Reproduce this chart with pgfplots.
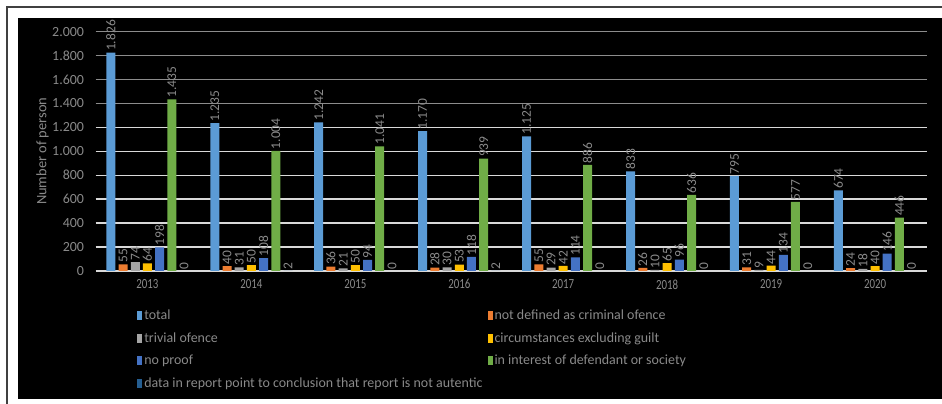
\documentclass[border=0pt]{standalone}
\usepackage{fontspec}
\setmainfont{Carlito}
\newfontfamily\cond[FakeStretch=0.78]{Carlito}
\usepackage{pgfplots}
\pgfplotsset{compat=1.18}
\definecolor{cTotal}{HTML}{5B9BD5}
\definecolor{cNotDef}{HTML}{ED7D31}
\definecolor{cTrivial}{HTML}{A5A5A5}
\definecolor{cCirc}{HTML}{FFC000}
\definecolor{cNoProof}{HTML}{4472C4}
\definecolor{cInterest}{HTML}{70AD47}
\definecolor{cData}{HTML}{255E91}
\definecolor{lbl}{HTML}{8A8A8A}
\definecolor{gridlow}{HTML}{D9D9D9}
\definecolor{gridtop}{HTML}{8C8C8C}
\definecolor{frame}{HTML}{404040}
\begin{document}
\begin{tikzpicture}
\useasboundingbox (0bp,0bp) rectangle (942bp,404bp);
\fill[white] (0bp,0bp) rectangle (942bp,404bp);
\fill[black] (18bp,5bp) rectangle (942bp,386bp);
\draw[line width=2bp, color=frame] (7bp,0bp) -- (7bp,397bp) -- (942bp,397bp);
\begin{axis}[
  at={(95.5bp,133bp)}, anchor=south west,
  scale only axis, width=831.5bp, height=239.3bp,
  ymin=0, ymax=2000,
  xmin=-0.5, xmax=7.5,
  xtick={0,1,2,3,4,5,6,7},
  xticklabels={2013,2014,2015,2016,2017,2018,2019,2020},
  ytick={0,200,400,600,800,1000,1200},
  extra y ticks={1400,1600,1800,2000},
  ymajorgrids,
  grid style={draw=gridlow, line width=1.5bp},
  extra y tick style={grid style={draw=gridtop, line width=1.5bp}},
  axis line style={draw=none},
  tick style={draw=none},
  major tick length=0pt,
  /pgf/number format/1000 sep={.},
  /pgf/number format/assume math mode=true,
  yticklabel style={font=\fontsize{14}{14}\selectfont, text=lbl, xshift=-8bp},
  xticklabel style={font=\cond\fontsize{14}{14}\selectfont, text=lbl, yshift=-5bp},
  ylabel={Number of person},
  ylabel style={font=\fontsize{14.5}{14.5}\selectfont, text=lbl, at={(axis description cs:-0.0637,0.5)}, anchor=center},
  ybar=3.2bp, bar width=9bp,
  every axis plot post/.append style={legend image code/.code={\fill[##1] (0bp,-4.5bp) rectangle (5bp,4.5bp);}},
  nodes near coords,
  every node near coord/.append style={rotate=90, anchor=west, font=\fontsize{13.5}{13.5}\selectfont, text=lbl, inner sep=1.5bp},
  legend columns=2,
  legend cell align=left,
  legend style={draw=none, fill=none, at={(axis description cs:0.050,-0.152)}, anchor=north west,
    font=\fontsize{14}{14}\selectfont, text=lbl, row sep=7.7bp, inner sep=0pt,
    /tikz/every even column/.append style={column sep=3bp}},
]
\addplot[fill=cTotal, draw=none] coordinates {(0,1826) (1,1235) (2,1242) (3,1170) (4,1125) (5,833) (6,795) (7,674)};
\addplot[fill=cNotDef, draw=none] coordinates {(0,55) (1,40) (2,36) (3,28) (4,55) (5,26) (6,31) (7,24)};
\addplot[fill=cTrivial, draw=none] coordinates {(0,74) (1,31) (2,21) (3,30) (4,29) (5,10) (6,9) (7,18)};
\addplot[fill=cCirc, draw=none] coordinates {(0,64) (1,50) (2,50) (3,53) (4,42) (5,65) (6,44) (7,40)};
\addplot[fill=cNoProof, draw=none] coordinates {(0,198) (1,108) (2,94) (3,118) (4,114) (5,96) (6,134) (7,146)};
\addplot[fill=cInterest, draw=none] coordinates {(0,1435) (1,1004) (2,1041) (3,939) (4,886) (5,636) (6,577) (7,446)};
\addplot[fill=cData, draw=none] coordinates {(0,0) (1,2) (2,0) (3,2) (4,0) (5,0) (6,0) (7,0)};
\legend{total, not defined as criminal ofence, trivial ofence, circumstances excluding guilt, no proof, in interest of defendant or society, data in report point to conclusion that report is not autentic}
\end{axis}
\end{tikzpicture}
\end{document}
